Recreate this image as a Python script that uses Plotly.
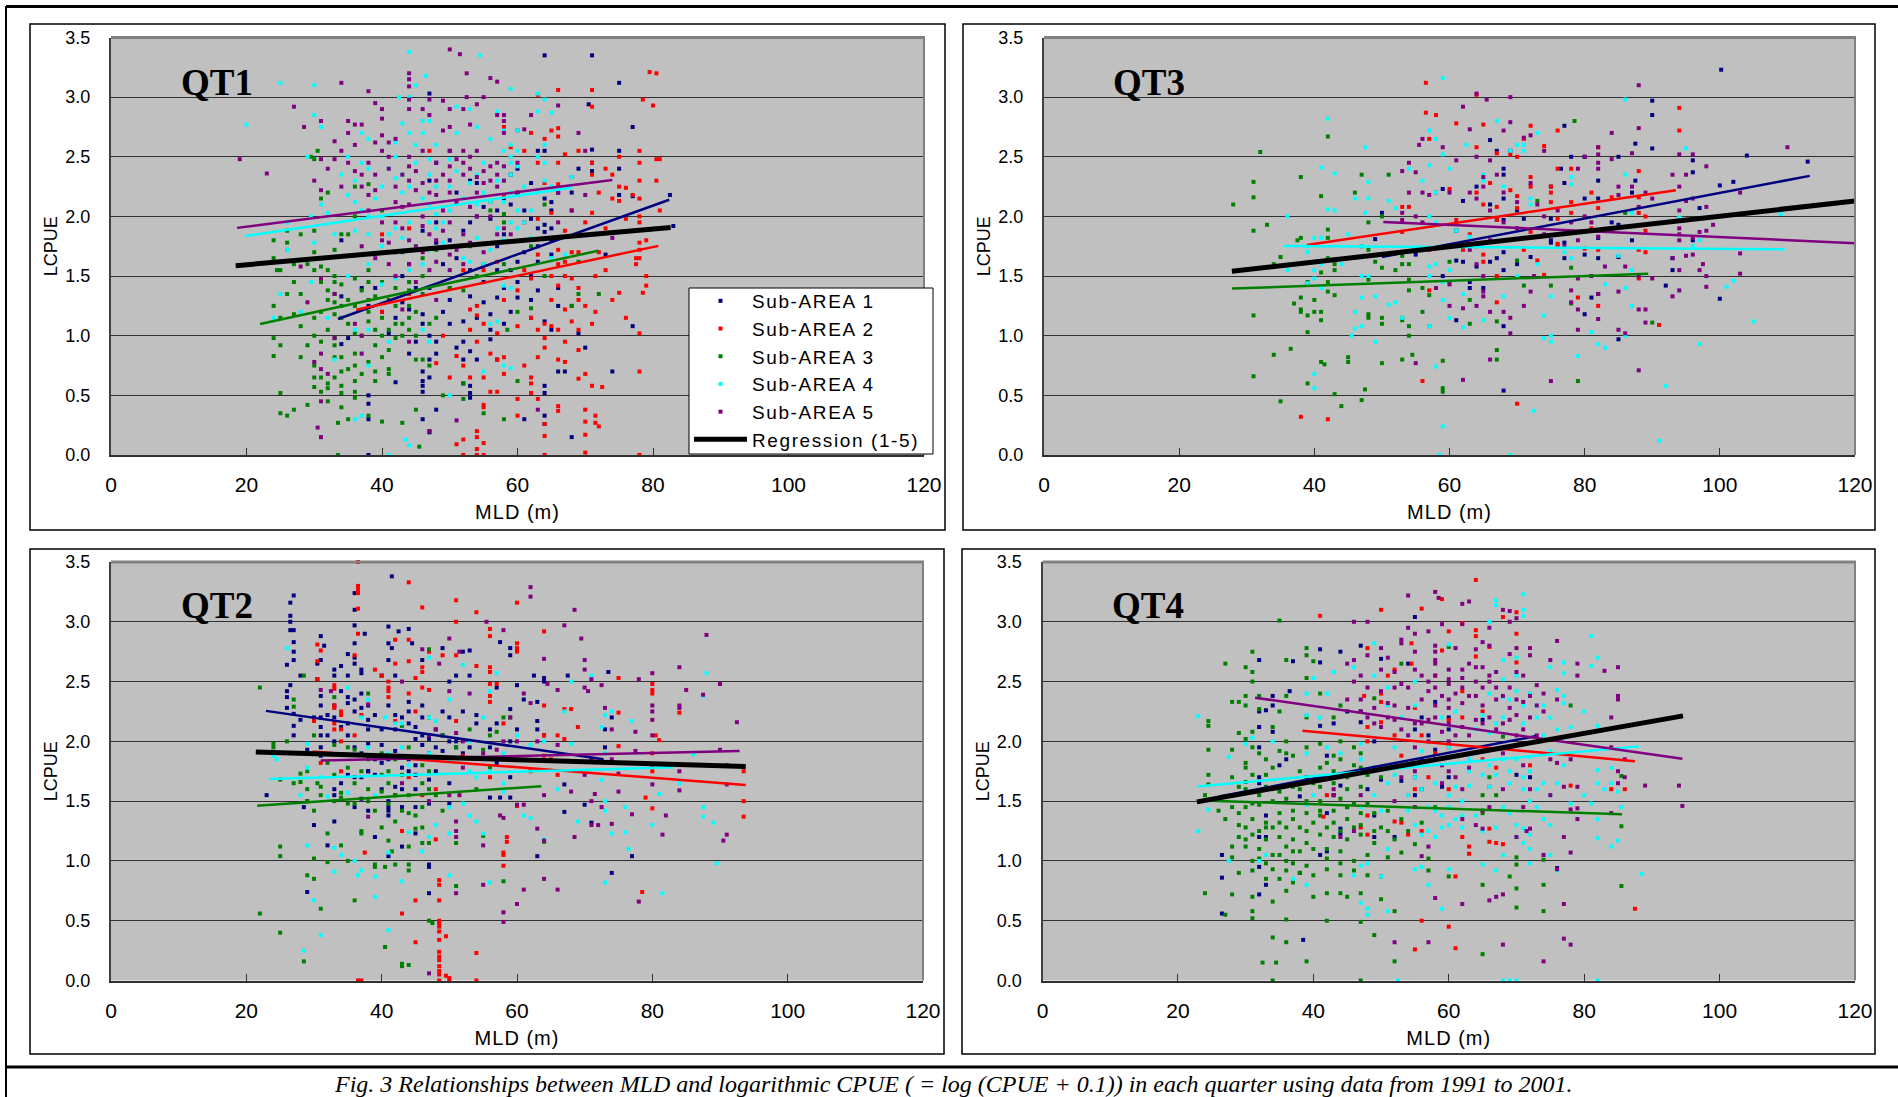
import plotly.graph_objects as go

# ---- data: (MLD, LCPUE) ----
AREAS = ["Sub-AREA 1", "Sub-AREA 2", "Sub-AREA 3", "Sub-AREA 4", "Sub-AREA 5"]
COLORS = ["#000080", "#FF0000", "#008000", "#00FFFF", "#800080"]
X_TICKS = [0, 20, 40, 60, 80, 100, 120]
Y_TICKS = [0.0, 0.5, 1.0, 1.5, 2.0, 2.5, 3.0, 3.5]
CAPTION = "Fig. 3 Relationships between MLD and logarithmic CPUE ( = log (CPUE + 0.1)) in each quarter using data from 1991 to 2001."

QT1_A1 = [(64,3.35),(71,3.35),(75,3.12),(70.5,2.94),(77,2.75),(47,3.03),(71,2.56),(75,2.55),(64,2.55),(71,2.45),(71,2.38),(75,2.4),(82.5,2.18),(75,2.18),(77,2.17),(83,1.92),(69,2.4),(66,2.2),(68,2.2),(64,2.15),(65,2.12),(65,2.05),(64,1.93),(65,1.9),(64,1.87),(65,1.8),(65,1.68),(63,1.62),(63,2.55),(60,2.4),(59,2.35),(62,2.28),(58,2.15),(57,2.05),(54,2.0),(53,1.95),(52,1.88),(58,1.85),(57,1.75),(60,1.62),(57,1.55),(55,1.45),(58,1.4),(60,1.32),(62,1.3),(59,1.2),(56,1.18),(58,1.1),(62,1.15),(64,1.12),(66,1.25),(66,1.4),(65,1.05),(69,1.02),(64,0.58),(64,0.52),(66,0.7),(67,0.7),(70,0.9),(74,0.7),(77,1.08),(73,1.68),(64,0.33),(64,0.26),(68,0.15),(61,0.3),(48,0.38),(47,0.19),(46,0.3),(38,0.3),(38,0.5),(38,0.43),(38,0),(42,0.61),(46,0.62),(46,0.58),(46,0.53),(47,0.65),(46,0.7),(47,0.8),(48,0.85),(48,0.95),(47,1.0),(46,1.1),(44,0.85),(45,0.95),(42,1.15),(40,1.2),(46,1.18),(50,1.1),(52,0.95),(51,0.9),(53,0.87),(52,0.8),(54,0.8),(57,0.8),(52,0.6),(53,0.58),(53,0.52),(53,0.48),(56,0.97),(56,1.05),(50,1.3),(53,1.33),(45,1.4),(43,1.5),(44,1.6),(39,1.4),(37,1.4),(34,1.33),(34,1.8),(35,0.98),(34,0.93),(48,1.78),(50,1.8),(47,2.3),(48,2.45),(51,2.2),(50,2.55),
 (53,2.3),(54,2.28),(55,2.08),(56,1.98),(59,2.1),(61,2.05),(60,2.18),(62,1.98),(63,1.9),(63,1.75),(61,1.7),(59,1.55),(60,1.45),(62,1.5),(63,1.38),(57,1.32),(55,1.28),(54,1.15),(52,1.12),(49,1.2),(47,1.4),(44,1.22),(43,1.28),(41,1.02),(38,1.25),(49,1.6),(51,1.65),(53,1.55),(48,1.95),(46,1.88)]
QT1_A2 = [(79.5,3.21),(80.5,3.2),(78.5,2.98),(80,2.93),(71,3.06),(71,2.92),(66,3.06),(63,3.02),(65,2.72),(66,2.74),(66,2.67),(64,2.65),(58,2.75),(60,2.72),(62,2.7),(59,2.58),(61,2.55),(63,2.45),(66,2.45),(67,2.52),(69,2.55),(71,2.45),(73,2.4),(75,2.5),(78,2.55),(81,2.48),(80.5,2.48),(78,2.45),(74,2.35),(71,2.35),(68,2.33),(66,2.27),(64,2.28),(60,2.2),(58,2.18),(56,2.12),(72,2.2),(75,2.25),(76,2.24),(74,2.15),(75,2.13),(77,2.18),(78,2.15),(80.5,2.3),(81,2.05),(78,2.3),(78,2.0),(76,1.98),(78,1.95),(71,2.03),(68,2.05),(65,2.03),(63,1.98),(61,1.95),(67,1.88),(70,1.95),(73,1.9),(78,1.78),(79,1.8),(78,1.72),(77.5,1.65),(78,1.65),(77.5,1.6),(79,1.5),(79,1.42),(78.5,1.36),(75,1.36),(74,1.3),(71.5,1.2),(71.5,1.5),(73,1.55),(72,1.7),(68,1.7),(69,1.7),(66,1.6),(67,1.5),(68,1.48),(66,1.42),(69,1.4),(69,1.3),(68,1.25),(67,1.22),(65,1.3),(62,1.48),(60,1.38),(62,1.15),(64,1.1),(65,1.08),(66,1.05),(69,1.05),(64,0.98),(67,0.95),(64,0.9),(69,0.88),(67,0.78),(63,0.82),(66,0.8),(70,0.68),(69,0.64),(71,0.58),(72.5,0.57),(78,0.7),(76,1.15),(78,1.02),(62,0.65),(62,0.6),(62,0.52),(60,0.47),(63,0.47),(66,0.41),(66,0.37),(55,0.42),(55,0.4),(60,0.33),(71.5,0.33),(70,0.38),(71.5,0.27),(72,0.24),(70,0.17),(70,0.28),(64,0.16),(64,0.26),(54,0.2),(54,0.15),(55,0.1),(54,0.05),(54,0),(55,0),(52,0),(51,0.09),(52,0.13),(64,0),(70,0.02),(78,0),(56,0.53),(57,0.53),(55,0.65),(53,0.65),(50,0.65),(48,0.77),(52,0.75),(57,0.8),(58,0.82),(54,0.95),(51,0.83),(53,1.05),(49,1.0),(53,1.22),(54,1.25),(54,1.17),(55,1.1),(44,1.35),(50,1.4),(47,2.55),(44,1.9),(40,1.85),(40,1.2),
 (52,1.55),(55,1.55),(57,1.62),(58,1.3),(61,1.55),(63,1.68),(65,1.5),(66,1.72),(67,1.62),(70,1.25),(71,1.1),(68,1.12),(60,1.08),(63,1.05),(57,1.02),(58,0.68),(61,0.75),(56,0.85)]
QT1_A3 = [(30.5,2.55),(29.5,2.5),(30,2.48),(32,2.2),(31,2.15),(26,1.88),(28,1.85),(30,1.88),(35,1.85),(24,1.8),(26,1.78),(24,1.65),(24.5,1.55),(26,1.72),(27,1.6),(30,1.7),(33,1.72),(29,1.6),(31,1.58),(32,1.55),(33,1.5),(33,1.45),(34,1.43),(33,1.35),(32,1.3),(34,1.25),(33,1.18),(31,1.2),(28,1.35),(26,1.35),(25,1.55),(27,1.45),(24,1.25),(25,1.15),(30,1.15),(32,1.05),(33,0.98),(33,0.92),(30,1.0),(24,0.98),(25,0.92),(24,0.83),(28,0.82),(30,0.75),(34,0.82),(36,0.85),(34,0.7),(36,0.75),(39,0.7),(41,0.72),(41,0.68),(39,0.62),(36,0.62),(33,0.65),(30,0.57),(31,0.53),(32,0.56),(34,0.52),(36,0.53),(36,0.48),(32,0.45),(34,0.4),(29,0.42),(25,0.52),(27,0.38),(25,0.35),(26,0.33),(31,0.15),(33.5,0.27),(38,0.33),(40,0.28),(43,0.27),(45,0.38),(33.5,0),(35,0.3),(45.5,0.07),(47,0.2),(49,0.5),(52,0.47),(55,0.35),(58,0.3),(58.5,1.05),(60,0.62),(52,0.6),(38,1.45),(40,1.45),(42,1.4),(44,1.38),(44,1.45),(46,1.5),(38,1.3),(40,1.15),(42,1.1),(44,1.05),(43,1.0),(45,1.0),(39,0.92),(41,0.88),(45,0.8),(47,1.1),(48,1.15),(50,1.4),(52,1.38),(54,1.5),(55,1.6),(53,1.75),(48,1.72),(46,1.65),(43,1.7),(56,2.05),(58,2.02),(58,1.95),(58,1.6),(62,1.75),(64,2.1),(64,1.5),(69,1.62),(69,1.35),(72,1.35),(68,1.25),(62,1.23),(60,1.2),(36,2.25),(38,2.27),(36,2.0),(40,2.05),(34,1.85),(38,1.55),(36,1.48),
 (30,1.55),(31,1.45),(32,1.38),(33,1.28),(34,1.15),(35,1.1),(36,1.02),(37,1.0),(38,1.12),(39,1.05),(40,1.0),(41,1.05),(42,0.98),(43,1.1),(44,1.15),(35,1.3),(36,1.25),(37,1.38),(38,1.2),(39,1.33),(41,1.3),(42,1.25),(44,1.25),(45,1.2),(46,1.35),(31,0.95),(33,0.82),(35,0.72),(37,0.68),(38,0.78),(40,0.82),(30,0.65),(32,0.6),(31,0.65),(34,0.58),(46,0.8),(47,0.75),(29,0.92),(28,1.08),(27,1.18)]
QT1_A4 = [(44,3.38),(25,3.12),(30,3.1),(20,2.77),(30,2.85),(31,2.75),(42.5,3.0),(44,3.0),(46.5,3.18),(45,3.1),(54.5,3.35),(59,3.07),(63,3.03),(64,2.98),(63,2.88),(65,2.87),(53,2.9),(51,2.92),(57,2.88),(46,2.8),(47,2.8),(43,2.78),(37,2.7),(38,2.65),(44,2.7),(45,2.6),(42,2.5),(48,2.6),(51,2.7),(54,2.75),(56,2.65),(58,2.72),(60,2.72),(59,2.6),(58,2.55),(59,2.5),(60,2.42),(59,2.35),(58,2.3),(64,2.6),(63,2.5),(64,2.45),(29,2.5),(35,2.5),(37,2.45),(38,2.4),(34,2.35),(36,2.3),(40,2.25),(43,2.35),(43,2.2),(47,2.35),(45,2.45),(50,2.25),(52,2.15),(55,2.2),(54,2.1),(58,2.12),(60,2.05),(62,2.05),(65,2.25),(68,2.33),(31,2.1),(29.5,2.0),(32,2.03),(26,1.95),(26,1.72),(30,1.78),(33,1.85),(36,1.88),(38,1.85),(40,1.75),(42,1.9),(44,1.95),(47,1.95),(48,1.9),(52,1.85),(54,1.82),(57,1.9),(60,1.9),(62,1.82),(61,1.95),(46,1.6),(44,1.55),(42,1.48),(40,1.43),(38,1.6),(35,1.5),(29.5,1.45),(25,1.35),(28,1.2),(24,1.15),(32,1.15),(38,1.05),(36,1.05),(41,0.95),(46,1.05),(47,0.95),(37,0.85),(38,0.75),(33,0.8),(59,1.4),(58,1.42),(57,1.12),(56,1.1),(50,1.55),(52,1.65),(55,1.6),(65,1.65),(67,1.68),(58,0.75),(59,0.73),(55,0.7),(50,0.5),(37,0.33),(36,0.3),(43.5,0.13),(44,0.08),(41,0),(54,2.35),(48,2.25),
 (41,2.4),(42,2.32),(44,2.25),(46,2.15),(47,2.1),(48,2.02),(49,1.95),(50,2.05),(51,2.38),(53,2.28),(55,2.45),(56,2.12),(57,2.3),(58,2.42),(59,2.45),(60,2.55),(59,2.2),(61,2.25),(63,2.2),(64,2.3),(35,2.18),(36,2.12),(37,2.05),(38,2.0),(39,2.15),(40,2.0),(41,1.85),(43,1.82),(45,1.75),(47,1.72),(49,1.78),(51,1.75),(53,1.62),(56,1.72),(58,1.8),(59,1.95),(42,2.62),(47,2.48),(50,2.48),(46,2.7)]
QT1_A5 = [(50,3.4),(51.5,3.36),(52.5,3.2),(56,3.16),(57,3.13),(44,3.2),(44,3.15),(44,3.09),(34,3.12),(38,3.05),(55,3.0),(52.5,3.0),(47,2.98),(44,2.98),(49,2.97),(39,2.95),(40,2.9),(27,2.92),(28.5,2.75),(31,2.8),(35,2.8),(36,2.77),(37,2.77),(40,2.82),(44,2.9),(46,2.9),(47,2.85),(50,2.9),(52,2.9),(54,2.94),(57,2.85),(58,2.85),(58,2.8),(62,2.85),(66,2.93),(61,2.73),(58,2.7),(53,2.77),(50,2.75),(49,2.72),(35,2.7),(36,2.6),(33,2.63),(34,2.55),(39,2.62),(40,2.55),(42,2.65),(44,2.5),(46,2.55),(48,2.45),(50,2.55),(52,2.55),(53,2.5),(56,2.42),(57,2.45),(55,2.38),(38,2.45),(41,2.4),(31,2.48),(32,2.4),(30,2.3),(31,2.22),(19,2.48),(23,2.36),(34,2.25),(37,2.25),(39,2.35),(42,2.25),(44,2.3),(45,2.22),(48,2.3),(50,2.3),(52,2.35),(54,2.2),(58,2.3),(60,2.2),(66,2.2),(69,2.7),(70,2.55),(38,2.05),(40,1.95),(42,1.95),(44,2.1),(46,2.0),(49,2.05),(50,1.95),(52,1.85),(54,2.0),(56,2.0),(58,1.9),(48,1.8),(45,1.75),(40,1.8),(37,1.75),(52,1.6),(50,1.55),(47,1.55),(45,1.45),(42,1.5),(28,1.58),(29,1.28),(33,1.35),(31,1.48),(43,1.22),(48,1.3),(36,1.1),(37,1.0),(33,0.98),(31,0.85),(30,0.78),(31,0.72),(32,0.68),(37,0.85),(44,0.95),(31,0.45),(30.5,0.23),(31,0.15),(47,0.2),(51,0.29),(63,0.38),(74,1.82),(60,2.45),(66,1.95),(68,2.05),(70,2.18),
 (40,2.68),(41,2.5),(41,2.62),(43,2.35),(44,2.42),(45,2.38),(46,2.28),(47,2.2),(48,2.18),(49,2.35),(50,2.42),(51,2.48),(52,2.45),(53,2.4),(54,2.55),(54,2.33),(55,2.28),(56,2.3),(57,2.35),(57,2.25),(58,2.42),(50,2.2),(51,2.12),(53,2.08),(43,2.08),(42,2.12),(39,2.22),(38,2.18),(36,2.38),(37,2.35),(35,2.45),(33,2.48),(46,1.92),(47,1.85),(44,1.8),(41,1.78),(43,1.9),(49,1.88),(51,1.72),(53,1.78),(55,1.7),(57,1.85),(59,1.85),(48,1.62),(50,1.68),(46,1.7),(42,1.7),(39,1.65),(44,1.6),(41,1.6)]

QT3_A1 = [(100.2,3.23),(90,2.97),(90,2.85),(87.5,2.61),(90,2.57),(85,2.5),(104,2.51),(113,2.46),(96,2.47),(96,2.37),(102,2.29),(100,2.26),(87.5,2.3),(87,2.2),(82,2.3),(82,2.15),(80,2.15),(78,2.5),(80,2.5),(75,2.25),(77,2.28),(76.5,2.4),(77,2.76),(68,2.4),(68,2.35),(67,2.55),(69,2.55),(66,2.64),(64,2.25),(62,2.13),(68,2.15),(66,2.1),(59,2.23),(68,1.97),(67,1.97),(70,2.05),(71,1.98),(61,1.88),(75,1.98),(75,1.78),(77,1.78),(75,1.8),(82,1.82),(85,1.93),(84,1.95),(87,1.8),(82,1.65),(85,1.66),(80,1.68),(77,1.65),(72,1.66),(68,1.7),(67,1.65),(66,1.62),(70,1.6),(64,1.58),(61,1.63),(62,1.62),(59,1.5),(63,1.45),(65,1.4),(63,1.4),(68,1.55),(49,1.81),(50,2.03),(55,1.68),(61,1.13),(68,1.08),(68,0.54),(82,1.35),(81,1.32),(80,1.18),(85,0.97),(93,1.65),(93,1.55),(92,1.42),(100,1.31),(96,1.8),(97,2.07)]
QT3_A2 = [(56.5,3.12),(56.5,2.87),(58,2.85),(57,2.65),(61,2.78),(64,3.02),(65,2.77),(72,2.76),(76,2.72),(71,2.65),(94,2.91),(94,2.72),(74,2.59),(64,2.58),(67,2.53),(69,2.52),(70,2.5),(82,2.58),(88,2.38),(78,2.4),(76,2.4),(72,2.33),(75,2.25),(75,2.2),(72,2.25),(66,2.28),(64,2.2),(69,2.22),(70,2.17),(65,2.1),(67,2.08),(70,2.07),(75,2.12),(78,2.12),(81,2.2),(84,2.16),(82,2.07),(78,2.03),(88,2.16),(89,2.0),(88,2.03),(60,2.23),(58,2.2),(54,2.08),(61,1.97),(63,1.85),(67,1.97),(72,1.87),(76,1.98),(62,1.72),(65,1.68),(71,1.72),(65,1.62),(57,1.72),(73,1.63),(76,1.77),(76,1.76),(80,1.73),(82,1.72),(88,1.72),(89,1.7),(89,1.88),(67,1.5),(74,1.51),(88,1.48),(57,1.38),(67,1.28),(79,1.32),(82,1.25),(81,1.9),(91,1.09),(38,0.32),(42,0.3),(56,0.62),(70,0.43),(53,1.87),(53,2.08),(64,1.75)]
QT3_A3 = [(28,2.1),(31,2.29),(31,2.16),(32,2.54),(31,1.88),(33,1.93),(38,2.33),(41,2.17),(42,2.67),(46,2.2),(47,2.35),(51,2.35),(50,2.0),(38,1.82),(37.5,1.8),(42,1.89),(42,1.82),(35,1.66),(34,1.6),(31,1.17),(31,0.66),(34,0.84),(36.5,0.89),(35,0.45),(38,1.32),(37,1.27),(38,1.22),(38,1.2),(39,1.17),(39,1.03),(41,1.13),(40,1.2),(40,1.3),(41,1.2),(39,1.45),(42,1.45),(42,1.37),(43,1.34),(42,1.65),(43,1.6),(43,1.55),(41,1.53),(48,1.95),(47,1.75),(48,1.72),(49,1.62),(50,1.57),(48,1.47),(53,1.67),(53,1.6),(54,1.6),(52,1.55),(54,1.47),(54,1.38),(56,1.4),(57,1.34),(48,1.18),(48,1.15),(50,1.15),(50,1.1),(53,1.15),(53,1.13),(54,1.08),(56,1.2),(57,1.08),(54,1.0),(39,0.6),(41,0.78),(41.5,0.76),(45,0.82),(45,0.78),(50,0.77),(53,0.8),(54.5,0.84),(59,0.79),(47,0.46),(47.5,0.55),(44,0.41),(43,0.51),(59,0.56),(59,0.53),(67,0.88),(67,0.8),(79,0.62),(63,1.3),(63,1.1),(67,1.12),(73,2.13),(78.5,2.8),(78,1.57),(71,1.42),(70,1.63),(75,1.42),(78,1.27),(86,2.03),(90,1.11),(60,1.45),(60,1.62),(62,1.75)]
QT3_A4 = [(59,3.16),(42,2.82),(47.5,2.58),(57,2.72),(58,2.65),(59,2.52),(62.5,2.6),(67,2.8),(73,2.7),(71,2.6),(69,2.55),(70,2.6),(71,2.55),(86,2.98),(95,2.57),(86,2.35),(78,2.33),(78,2.27),(60,2.4),(56,2.3),(54,2.4),(57,2.43),(58,2.2),(65,2.35),(68,2.25),(72,2.15),(72,2.1),(65,2.3),(41,2.41),(43,2.36),(48,2.15),(46,2.15),(48,2.29),(47.5,2.03),(42,2.06),(43,2.05),(36,2.0),(51,2.13),(52,2.07),(57,2.0),(58,1.95),(61,1.88),(63,1.83),(45,1.85),(47,1.75),(39,1.75),(40,1.82),(41,1.82),(39,1.7),(44,1.6),(41,1.6),(40,1.55),(36,1.55),(40,1.48),(39,1.44),(41,1.4),(47,1.32),(49,1.33),(52,1.28),(51,1.26),(48,1.5),(47,1.5),(57,1.5),(57,1.58),(58,1.6),(60,1.55),(59,1.45),(59,1.3),(62,1.35),(46,1.2),(47,1.08),(46,1.06),(45.5,1.0),(49,0.95),(53,1.15),(57,1.08),(60,1.15),(62,1.07),(65,1.13),(68,1.33),(70,1.5),(75,1.33),(74,1.17),(73,1.6),(77,1.7),(78,1.65),(85,1.67),(87,1.55),(86,1.4),(83,1.43),(75,1.0),(75,0.95),(74,0.98),(79,0.83),(82,0.93),(83,0.9),(86,1.0),(81,1.03),(97,0.93),(92,0.58),(91,0.12),(105,1.12),(101,1.41),(102,1.46),(94,1.38),(87,1.25),(109,2.02),(96,1.75),(97,1.8),(94,1.99),(87,2.03),(40,0.68),(40,0.56),(58,0.74),(72.5,0.37),(59,0.24),(58.5,0),(69,0)]
QT3_A5 = [(88,3.1),(64,3.03),(65.5,2.98),(69,3.0),(62,2.92),(69,2.79),(63,2.73),(68,2.72),(72,2.68),(88,2.74),(84,2.7),(56,2.65),(55.5,2.6),(59,2.58),(61,2.47),(64,2.5),(66,2.47),(71,2.66),(74,2.55),(110,2.58),(82,2.58),(82,2.52),(87,2.53),(84,2.48),(80,2.5),(82,2.45),(82,2.4),(79,2.4),(85,2.25),(89,2.2),(90,2.15),(94,2.52),(95,2.35),(93,2.35),(94,2.25),(96,2.52),(98,2.42),(94,2.05),(96,2.15),(95,2.13),(98,2.08),(103,2.2),(99,1.93),(94,1.9),(94,1.85),(98,1.88),(97,1.87),(94,1.8),(96,1.82),(103,1.69),(103,1.52),(97.5,1.6),(97,1.55),(98,1.5),(98,1.41),(96,1.68),(95,1.67),(94,1.55),(93,1.65),(94,1.38),(93,1.33),(90,1.48),(88,1.5),(86,1.58),(85,1.37),(82,1.35),(78,1.38),(79,1.48),(81,1.5),(83,1.58),(79,1.22),(78,1.28),(82,1.14),(88,1.22),(89,1.22),(89,1.11),(85,1.05),(86,1.02),(79,1.05),(88,0.71),(75,0.62),(69,1.02),(66,0.8),(62,0.63),(55,0.77),(69,1.15),(68,1.2),(66,1.2),(64,1.25),(60,1.25),(62,1.23),(71,1.25),(72,1.37),(72.5,1.5),(65,1.37),(65,1.33),(65,1.5),(60,1.43),(58,1.4),(53,2.03),(54,2.45),(55,2.37),(53,2.38),(54,2.2),(56,2.2),(60,2.2),(57,2.18),(63,2.2),(65,2.25),(64,2.15),(66,2.05),(68,2.2),(70,2.12),(67,2.35),(65,2.33),(73,2.1),(72,2.28),(74,2.0),(76,2.05),(78,1.95),(80,2.0),(81,1.95),(82,1.83),(79,1.8),(77,1.75),(85,2.18),(87,2.25),(88,2.08),(56,1.95),(55,2.0),(53,1.97),(62,1.75),(66,1.8),(68,1.95),(70,1.9),(74,1.85),(64,1.6),(63,1.72)]

QT2_A1 = [(41.5,3.38),(27,3.22),(26.5,3.16),(36,3.24),(36,3.1),(26.5,3.05),(26.5,3.0),(26.5,2.93),(27,2.93),(36,2.97),(41,2.96),(44,2.94),(42.5,2.92),(37.5,2.9),(31,2.88),(27,2.83),(36,2.82),(41,2.82),(41.5,2.78),(44.5,2.82),(27,2.75),(31.5,2.8),(27,2.68),(26,2.64),(31,2.68),(30.5,2.65),(35,2.73),(36,2.7),(34,2.63),(36,2.65),(37,2.6),(41,2.68),(46,2.68),(49,2.78),(52,2.75),(53,2.76),(57.5,2.83),(59,2.78),(59,2.72),(62.5,2.55),(64,2.53),(64,2.5),(67.5,2.55),(73.5,2.58),(50,2.5),(51,2.55),(53,2.55),(57,2.45),(60,2.47),(33,2.55),(33,2.6),(35,2.55),(37,2.57),(40,2.55),(42,2.55),(30.5,2.52),(26.5,2.47),(26,2.42),(26,2.37),(26,2.28),(27,2.23),(28,2.18),(27,2.13),(30,2.2),(31,2.3),(31,2.2),(31,2.12),(33,2.2),(35,2.37),(37,2.4),(36,2.35),(38,2.3),(41,2.3),(44,2.33),(46,2.3),(46,2.2),(49,2.25),(50,2.2),(52,2.25),(54,2.22),(54,2.15),(57,2.15),(59,2.27),(61,2.35),(63,2.33),(63,2.17),(63,2.1),(64,2.05),(60,2.1),(56,2.1),(48,2.1),(44,2.15),(42,2.1),(40,2.1),(38,2.1),(35,2.05),(33,2.0),(31,1.95),(31,1.88),(29,1.93),(38,1.98),(40,1.97),(42,1.92),(44,1.85),(46,1.97),(49,2.05),(51,2.0),(53,1.95),(56,1.95),(59,2.0),(40,1.82),(38,1.75),(36,1.7),(34,1.65),(33,1.6),(33,1.55),(23,1.55),(29,1.5),(28.5,1.45),(38,1.75),(45,1.8),(45,1.72),(50,1.65),(48,1.75),(40,1.6),(41,1.5),(41,1.45),(41,1.38),(38,1.42),(36,1.45),(43,1.45),(45,1.45),(47,1.48),(50,1.48),(45,1.23),(43,1.12),(39,1.2),(33,1.33),(30,1.3),(32,1.13),(41,1.04),(47,0.97),(47,0.95),(47,0.73),(29,0.74),(63,1.04),(77,1.04),(74,0.9),(71,1.32),(67,1.64),(67,1.41),(56,1.53),(57.5,1.53),(59,1.53),(70,1.47),(73,1.95),(73,2.1),(74,2.2),(57,1.82),(59,1.7),
 (33,2.3),(34,2.42),(35,2.32),(36,2.25),(37,2.28),(38,2.18),(39,2.22),(42,2.22),(43,2.2),(44,2.25),(45,2.12),(45,2.02),(46,2.05),(47,2.02),(47,1.9),(48,1.95),(49,1.92),(50,2.0),(51,1.95),(52,1.9),(34,2.12),(35,2.15),(32,2.05),(36,1.95),(37,1.9),(38,1.88),(39,1.85),(41,1.85),(43,1.78),(44,1.75),(35,1.72),(37,1.7),(39,1.72),(42,1.62),(43,1.6),(45,1.6),(47,1.68),(37,1.52),(41,1.42),(42,1.55),(31,2.38),(32,2.22),(31,2.05),(27,2.05),(28,2.55)]
QT2_A2 = [(36.5,3.5),(44,3.33),(36.5,3.3),(36.5,3.27),(36.5,3.24),(36.5,3.11),(46,3.12),(51,3.18),(60,3.16),(54,3.08),(51,3.0),(56,2.94),(56,2.88),(64,2.92),(36.5,2.9),(30.5,2.81),(31,2.76),(42,2.85),(44,2.85),(60,2.82),(60,2.78),(60,2.75),(47,2.75),(49,2.72),(51,2.72),(36,2.72),(30.5,2.67),(44,2.67),(42,2.65),(46,2.62),(54,2.63),(56,2.62),(56,2.58),(39,2.6),(40,2.55),(46,2.58),(45,2.53),(30.5,2.52),(33,2.47),(33,2.44),(41,2.5),(41,2.45),(56,2.48),(57,2.48),(46,2.45),(47,2.43),(44,2.4),(41,2.42),(41,2.37),(56,2.38),(56,2.33),(75,2.53),(80,2.48),(80,2.43),(80,2.4),(84,2.24),(75,2.24),(67,2.27),(68,2.27),(64,2.3),(33,2.3),(33,2.28),(34,2.25),(34,2.22),(37,2.22),(30,2.17),(33,2.15),(33,2.1),(34,2.1),(45,2.25),(51,2.17),(42,2.17),(58,2.15),(36,2.05),(34,2.0),(31,1.9),(31,1.82),(34,1.75),(69,2.12),(64,2.05),(66,2.05),(67,2.02),(75,1.96),(80.5,2.05),(81,2.01),(80,1.9),(80,1.8),(80,1.75),(64,1.88),(65,1.85),(52,1.88),(56,1.7),(62,1.75),(66,1.72),(48,1.6),(44,1.7),(46,1.55),(60,1.46),(43,1.25),(48,1.18),(58.5,1.2),(58.5,1.16),(58,1.05),(58,1.07),(37.5,1.07),(58,0.96),(78.5,0.74),(79,1.53),(80,1.44),(93.5,1.75),(93.5,1.5),(93.5,1.37),(48.5,0.84),(48.5,0.8),(45,0.67),(48.5,0.67),(43,0.56),(48.5,0.5),(48.5,0.48),(48.5,0.45),(48.5,0.41),(48.5,0.34),(49.5,0.37),(45,0.32),(48.5,0.24),(48.5,0.2),(48.5,0.17),(54,0.23),(48.5,0.12),(48.5,0.08),(48.5,0.05),(49.5,0.04),(50,0.02),(48.5,0),(50,0),(54,0),(36.5,0),(37,0)]
QT2_A3 = [(22,2.45),(28.5,2.55),(27,2.35),(27,2.29),(47,2.77),(38,2.4),(33,2.37),(30,2.05),(24,1.98),(24,1.95),(26,2.0),(33,1.97),(35,1.95),(28,1.73),(29,1.75),(27,1.65),(28,1.66),(29,1.6),(30.5,1.65),(31,1.62),(25,1.68),(32,1.82),(29,1.5),(33,1.5),(34,1.57),(34,1.53),(35,1.48),(36,1.48),(38,1.6),(41,1.75),(40,1.72),(41,1.65),(40,1.58),(36,1.93),(38,1.85),(40,1.9),(44,1.95),(43,2.13),(46,1.8),(47,1.75),(46,1.65),(44,1.55),(43,1.42),(46,1.45),(47,1.6),(44,1.4),(45,1.38),(42,1.33),(40,1.28),(37,1.23),(37,1.25),(32,1.23),(25,1.12),(25,1.04),(30,1.02),(34,1.13),(35,1.0),(32,0.99),(39,0.95),(39,0.97),(40.5,0.95),(42,0.97),(44,0.97),(44,0.92),(41.5,1.08),(41,1.17),(44,1.12),(46,1.15),(47,1.15),(45,1.27),(51,1.15),(55,1.21),(64,1.16),(29,0.88),(30,0.85),(31,0.6),(36,0.67),(22,0.56),(25,0.4),(28.5,0.16),(40.5,0.28),(43,0.14),(43,0.12),(44,0.13),(47,0.5),(47.5,0.48),(51,0.79),(58,0.83),(49,2.05),(53,2.1),(56,2.05),(57,2.08),(58,2.2),(55,1.93),(56,1.78),(51,1.95),(54,1.6),(59,2.2),(47,2.2),
 (33,1.72),(35,1.78),(36,1.65),(37,1.75),(38,1.5),(39,1.42),(31,1.55),(30,1.42),(42,1.55),(43,1.72),(41,1.48),(42,1.85),(48,1.55),(49,1.42),(46,1.28)]
QT2_A4 = [(26,2.78),(47,2.7),(52,2.64),(50,2.35),(57,2.57),(56,2.42),(35,2.45),(38,2.35),(37,2.2),(40.5,2.2),(42,2.15),(43,2.15),(47,2.2),(48,2.17),(68,2.5),(71,2.55),(88,2.57),(87.5,2.38),(74,2.25),(73,2.22),(77,2.17),(72.5,2.12),(67,2.25),(53,2.0),(58,1.9),(60,2.05),(55,2.2),(62,1.97),(64,2.0),(68,1.98),(73,1.9),(24,1.88),(24.5,1.85),(29,1.98),(29,1.78),(31,1.7),(38,1.95),(41,1.9),(43,1.95),(44,1.8),(47,1.9),(50,1.85),(53,1.75),(54,1.7),(56,1.75),(58,1.65),(58,1.58),(66,1.6),(72.5,1.68),(73,1.5),(28,1.55),(32,1.54),(35,1.57),(39,1.55),(47,1.5),(50,1.45),(52,1.48),(53,1.38),(54,1.33),(61,1.38),(62,1.36),(76,1.45),(73,1.42),(69,1.33),(76,1.24),(74,1.23),(80,1.3),(81,1.56),(84,1.65),(86,1.89),(87.5,1.45),(87.5,1.37),(89,1.32),(76.5,1.1),(89.5,0.98),(48,1.3),(47,1.2),(50,1.23),(46,1.08),(41,1.07),(36,1.0),(33,1.11),(34,1.05),(33,0.91),(29,1.13),(37,0.92),(36.5,0.88),(39,0.87),(43,0.83),(50,0.88),(56,0.82),(73,0.82),(81.5,0.73),(39,0.7),(30,0.67),(31,0.38),(41,0.42),(28.5,0.25),(44,1.24),(55,1.23),(64,1.18)]
QT2_A5 = [(62,3.29),(62,3.21),(68.5,3.1),(55.5,3.0),(67,2.97),(58,2.93),(50,2.86),(69.5,2.86),(88,2.89),(46,2.77),(51.5,2.75),(64,2.69),(70,2.68),(48.5,2.65),(70,2.6),(71,2.52),(84,2.62),(80,2.57),(78,2.52),(90,2.48),(72.5,2.47),(73,2.28),(70,2.45),(70.5,2.42),(66,2.43),(64.5,2.48),(61,2.4),(53,2.4),(50,2.42),(59,2.2),(62,2.32),(80,2.3),(80,2.25),(80,2.18),(84,2.3),(84,2.28),(85,2.43),(87.5,2.39),(77.5,2.08),(80,2.05),(92.5,2.16),(74,2.1),(58,2.0),(60,2.0),(63,2.0),(66,1.97),(71,1.85),(74,1.85),(77.5,1.92),(90,1.93),(91,1.8),(84,1.75),(80,1.64),(84,1.59),(91,1.64),(75,1.73),(70,1.72),(68,1.58),(71.5,1.56),(71,1.5),(72.5,1.45),(75,1.58),(64,1.55),(60,1.47),(61,1.47),(57.5,1.38),(58,1.36),(77,1.39),(82,1.38),(72,1.3),(74,1.31),(71,1.3),(81.5,1.22),(91,1.22),(90.5,1.17),(63,1.27),(64,1.17),(68.5,1.2),(55,1.13),(51,1.33),(51,1.25),(51,1.2),(50,1.55),(51.5,1.55),(52,1.78),(47,2.05),(48,2.1),(51,2.07),(52,2.0),(55,1.9),(57,1.93),(47,1.5),(38,1.37),(43,1.65),(38,2.31),(31,2.43),(32.5,2.42),(43,2.5),(64,0.85),(66,0.76),(61,0.76),(55,0.8),(51,0.73),(60,0.64),(58,0.57),(58,0.49),(78,0.66),(47,0.06)]

QT4_A1 = [(55,3.04),(44,2.75),(47,2.8),(41,2.77),(41,2.66),(32,2.68),(37,2.67),(50,2.69),(54,2.65),(36.5,2.42),(34,2.38),(34,2.3),(32,2.25),(33,2.26),(45,2.25),(47,2.25),(43,2.15),(41,2.13),(47,2.16),(32,2.12),(34,2.08),(32,1.95),(36,1.85),(35,1.8),(32,1.7),(32,1.65),(38,1.54),(44,1.63),(42,1.88),(49,2.0),(56,2.2),(55,2.1),(58,2.33),(60,2.2),(57,2.05),(60,2.1),(58,1.93),(55,1.7),(56,1.6),(55,1.55),(59,1.62),(60,1.7),(53,1.67),(50,1.68),(48,1.6),(43,1.55),(45,1.45),(42,1.4),(33,1.38),(32,1.2),(33,1.2),(44,1.27),(44,1.23),(49,1.38),(49,1.2),(52,1.2),(42,1.08),(41,1.05),(26.5,1.05),(32,0.95),(26.5,0.86),(38,0.9),(33,0.8),(32,0.72),(26.5,0.56),(38.5,0.34),(56,1.85),(65,2.18),(70,1.72),(76,0.94),(72,1.7)]
QT4_A2 = [(64,3.35),(41,3.05),(50,3.1),(56,3.11),(59,3.19),(68,3.04),(70,3.08),(62,2.99),(60,2.92),(64,2.93),(64,2.88),(70,2.9),(54.5,2.82),(48,2.78),(66,2.79),(59,2.76),(64,2.71),(70,2.66),(54.5,2.65),(52,2.6),(51,2.55),(58,2.55),(50,2.4),(47.5,2.38),(50,2.33),(55,2.28),(62,2.42),(65,2.25),(62,2.2),(60,2.18),(56,2.05),(50,2.16),(48,2.12),(52,2.05),(58,1.9),(60,1.95),(53,1.88),(65,1.85),(72,1.8),(67,1.78),(54,1.55),(55,1.6),(60,1.6),(78,1.63),(84,1.6),(86,1.6),(66,1.62),(42,1.55),(41.5,1.37),(47,1.28),(48,1.22),(48,1.38),(52,1.33),(54,1.22),(53,1.32),(56,1.25),(62,1.2),(63,1.12),(66,1.16),(67,1.15),(68,1.14),(63,1.06),(61,0.87),(87.5,0.6),(56,0.5),(60,0.45),(55,0.26),(61,0.27),(66,1.27),(48,2.0),(57,1.7)]
QT4_A3 = [(35,3.01),(31,2.75),(27,2.65),(30,2.62),(31,2.58),(39,2.78),(39,2.72),(36,2.68),(40,2.67),(53,2.65),(60,2.79),(31,2.5),(39,2.53),(30,2.38),(32,2.38),(28,2.33),(29,2.33),(30,2.3),(35,2.25),(32,2.27),(24.5,2.17),(24.5,2.13),(36,2.38),(41,2.4),(49,2.36),(44,2.3),(43,2.2),(39,2.2),(34,2.12),(31,2.08),(29,2.07),(30,2.02),(36,2.0),(31,1.95),(28,1.93),(24.5,1.93),(32,1.9),(35,1.92),(36,1.9),(39,1.95),(41,1.98),(44,2.0),(46,1.95),(43,1.88),(47,1.9),(30,1.82),(30,1.78),(33,1.85),(24.5,1.72),(28,1.7),(33,1.72),(30,1.66),(24.5,1.64),(38,1.75),(41,1.78),(43,1.75),(46,1.8),(49,1.78),(45,1.7),(43,1.65),(47,1.62),(48,1.72),(50,1.7),(38,1.6),(40,1.65),(30,1.6),(32,1.55),(36,1.52),(24,1.55),(39,1.5),(41,1.5),(44,1.52),(46,1.48),(30,1.45),(32,1.47),(34,1.5),(26,1.42),(27,1.35),(29,1.4),(31,1.35),(33,1.32),(35,1.4),(37,1.35),(39,1.4),(41,1.38),(43,1.32),(45,1.35),(47,1.3),(49,1.4),(51,1.42),(53,1.35),(51,1.25),(49,1.25),(47,1.22),(45,1.18),(43,1.2),(41,1.22),(39,1.25),(37,1.18),(35,1.2),(33,1.28),(31,1.22),(29,1.2),(30,1.12),(32,1.1),(34,1.05),(36,1.12),(38,1.08),(40,1.1),(42,1.1),(44,1.08),(46,1.0),(48,1.05),(51,1.03),(53,1.07),(28,1.12),(28,1.03),(31,1.0),(33,0.98),(36,1.0),(37,0.98),(39,0.96),(42,0.93),(44,0.88),(46,0.92),(48,0.88),(50,0.87),(29,0.9),(31,0.92),(33,0.85),(35,0.85),(37,0.82),(36,0.75),(40,0.7),(42,0.73),(44,0.73),(45,0.7),(47,0.73),(28,0.72),(24,0.73),(31,0.7),(31,0.58),(31,0.52),(27,0.55),(34,0.66),(36,0.51),(42,0.5),(47,0.49),(50,0.68),(49,0.38),(34,0.36),(36,0.32),(39,0.16),(32.5,0.15),(34.5,0.15),(52,0.16),(34,0),(47,0),(52,0.58),(65,0.22),(74,0.58),(74,1.01),(74,0.8),(70,0.77),(70,0.61),(69,0.87),(65,0.8),(70,1.03),(70,0.97),(60,0.87),(57,0.92),(85.5,0.79),(85.5,1.29),(85.5,1.71),(66,1.7),(68,2.04),(78,2.3),(55,1.14),(57,1.02),(65,1.4),(65,1.55),(67,1.55),(56,1.32),
 (28,1.45),(29,1.3),(30,1.28),(31,1.48),(32,1.25),(33,1.18),(34,1.28),(35,1.32),(36,1.28),(37,1.42),(38,1.28),(39,1.15),(40,1.32),(41,1.42),(42,1.28),(43,1.42),(44,1.25),(45,1.45),(46,1.28),(47,1.4),(48,1.48),(49,1.15),(30,1.18),(32,1.02),(34,0.93),(36,0.92),(38,0.9),(40,0.88),(42,1.02),(44,0.98),(35,1.58),(37,1.62),(39,1.7),(41,1.62),(43,1.55),(45,1.6),(47,1.78),(42,1.82),(44,1.85),(37,1.88),(34,1.78),(31,1.72),(29,1.62),(33,1.62),(35,1.05),(37,1.08),(50,1.28),(52,1.18),(54,1.25),(58,1.45)]
QT4_A4 = [(71,3.23),(67,3.18),(67,3.14),(71,3.1),(71,3.05),(66,3.0),(81,2.88),(60,2.81),(49,2.82),(50,2.78),(82,2.7),(81,2.63),(77,2.66),(70,2.7),(68,2.68),(75,2.62),(77,2.57),(67,2.58),(70,2.55),(68,2.52),(49,2.55),(43,2.58),(40,2.53),(39,2.4),(42,2.4),(46,2.62),(51,2.45),(55,2.5),(73,2.3),(76,2.43),(77,2.38),(74,2.3),(77,2.32),(68,2.37),(66,2.4),(71,2.3),(73,2.2),(71,2.15),(80,2.25),(78,2.12),(75,2.2),(68,2.2),(64,2.1),(66,2.07),(23,2.21),(39,2.22),(41,2.2),(31,2.03),(30,1.98),(34,2.0),(27.5,1.87),(39,1.9),(42,1.95),(44,1.9),(47,1.85),(47,1.98),(52,1.95),(56,1.92),(60,1.95),(63,1.85),(68,1.85),(72,1.87),(75,1.92),(77,1.8),(82,2.13),(82,1.76),(82,1.65),(85,1.58),(83,1.6),(80,1.55),(81,1.48),(85.5,1.45),(82,1.35),(82,1.19),(84,1.12),(88.5,0.89),(78,1.48),(74,1.65),(71,1.7),(69,1.65),(66,1.62),(73,1.6),(72,1.5),(63,1.63),(60,1.55),(58,1.65),(55,1.7),(51,1.65),(49,1.55),(47,1.45),(24.5,1.43),(23,1.25),(43,1.7),(40,1.55),(39,1.47),(50,1.42),(54,1.42),(58,1.42),(61,1.35),(64,1.38),(70,1.3),(71,1.27),(72,1.22),(70,1.2),(71,1.15),(72,1.1),(75,1.3),(75,1.05),(74,1.05),(68,1.05),(72,0.98),(76,0.92),(62,1.28),(59,1.28),(58,1.2),(56,1.22),(51,1.1),(48,0.98),(47,0.96),(27.5,1.0),(32,1.0),(33,1.05),(37,0.85),(39,0.8),(46,0.88),(50,0.87),(55,0.93),(56,0.95),(60,0.93),(65,0.97),(67,0.92),(57,0.8),(47,0.65),(48,0.6),(48,0.55),(51,0.58),(59,0.6),(52.5,0),(68,0),(69,0),(70,0),(82,0),(85,1.17),(84,1.78),(84,1.65),
 (52,1.72),(54,1.55),(56,1.6),(57,1.45),(59,1.38),(60,1.45),(61,1.62),(62,1.5),(63,1.75),(65,1.72),(66,1.8),(67,1.72),(69,1.75),(70,1.85),(71,1.6),(72,1.75),(73,1.45),(74,1.35),(75,1.55),(76,1.65),(55,1.3),(57,1.25),(60,1.3),(62,1.38),(65,1.25),(67,1.28),(68,1.45),(69,1.4),(65,2.22),(67,2.15),(69,2.35),(70,2.42),(72,2.4),(74,2.05),(76,2.1),(53,2.2),(55,2.3),(51,2.3),(59,2.2),(61,2.25)]
QT4_A5 = [(58,3.25),(58.5,3.2),(54,3.22),(62,3.15),(63,3.17),(68,3.1),(69,3.09),(70,3.03),(46,3.0),(48,3.0),(59,2.98),(62,2.98),(69,3.0),(66,2.95),(54,2.95),(55,2.9),(53,2.85),(57,2.92),(58,2.8),(58,2.75),(51,2.7),(53,2.82),(50,2.78),(61,2.78),(65,2.83),(66,2.8),(64,2.77),(70,2.78),(72,2.78),(69,2.73),(72,2.72),(75,2.68),(76,2.84),(79,2.65),(46,2.68),(48,2.72),(45,2.65),(47,2.55),(50,2.6),(52,2.58),(55,2.6),(58,2.65),(58,2.68),(60,2.6),(62,2.6),(64,2.62),(66,2.55),(70,2.58),(71,2.55),(79,2.55),(85,2.62),(83,2.59),(46,2.5),(48,2.45),(50,2.42),(53,2.48),(54,2.45),(57,2.5),(58,2.45),(60,2.48),(62,2.45),(64,2.5),(66,2.5),(69,2.45),(73,2.47),(74,2.4),(76,2.35),(45,2.35),(47,2.35),(52,2.3),(54,2.28),(56,2.35),(58,2.3),(60,2.35),(62,2.32),(65,2.3),(67,2.35),(71,2.33),(72,2.2),(74,2.25),(85,2.38),(85,2.35),(84,2.2),(49,2.15),(51,2.2),(53,2.1),(55,2.15),(58,2.2),(60,2.15),(62,2.12),(64,2.18),(68,2.15),(71,2.1),(73,2.05),(57,2.0),(60,2.0),(68,1.9),(71,1.8),(75,1.85),(79,1.62),(89,1.63),(94,1.63),(85,1.75),(86,1.7),(85,1.65),(86,1.85),(84,1.95),(78,1.85),(76,1.82),(94.5,1.46),(84,1.4),(79,1.44),(78,1.43),(79,1.35),(78,1.07),(77,1.2),(74,1.05),(70,1.2),(72,1.27),(71.5,1.25),(65,1.42),(64,1.3),(65,1.27),(62,1.35),(59,1.65),(60,1.75),(62,1.6),(59,1.8),(55,1.75),(53,1.7),(47,1.55),(43,1.6),(43,1.55),(46,1.25),(44,1.2),(52,1.5),(55,1.45),(57,1.12),(56,1.04),(76,0.93),(68,0.72),(67,0.7),(66,0.67),(62,0.64),(58,0.69),(77,0.64),(77,0.35),(78,0.3),(68,0.3),(52,0.32),(57,0.32),(74,0.16),
 (55,2.75),(56,2.55),(57,2.42),(58,2.55),(59,2.38),(60,2.52),(61,2.4),(62,2.53),(63,2.38),(63,2.65),(64,2.38),(65,2.45),(65,2.62),(67,2.45),(67,2.58),(68,2.38),(69,2.28),(70,2.35),(70,2.22),(72,2.38),(73,2.3),(52,2.45),(52,2.18),(51,2.32),(49,2.28),(48,2.2),(47,2.25),(50,2.12),(54,2.05),(55,1.95),(56,2.15),(57,2.18),(59,2.08),(60,2.28),(61,2.05),(63,2.05),(65,2.15),(66,2.2),(67,2.1),(69,2.18),(70,2.05),(58,1.85),(61,1.7),(63,1.78),(66,1.45),(68,1.6),(71,1.45),(72,1.6),(75,1.55),(77,1.62)]

# regression end points per area, then combined
QT1_FITS = [((33.5,1.14),(82.4,2.14)),((36.2,1.217),(80.8,1.753)),((22,1.098),(71.9,1.712)),((19.8,1.835),(68.1,2.242)),((18.6,1.904),(74,2.306))]
QT1_ALL = ((18.4,1.587),(82.6,1.907))
QT3_FITS = [((50,1.66),(113.3,2.34)),((38.9,1.76),(93.5,2.22)),((27.8,1.395),(89.4,1.52)),((35.5,1.753),(109.6,1.724)),((50.2,1.954),(120,1.776))]
QT3_ALL = ((27.8,1.54),(120,2.13))
QT2_FITS = [((22.9,2.255),(72.8,1.85)),((29.8,1.916),(93.8,1.634)),((21.6,1.462),(63.6,1.625)),((23.4,1.685),(83.2,1.783)),((31,1.839),(92.9,1.919))]
QT2_ALL = ((21.4,1.91),(93.8,1.79))
QT4_FITS = [((26.1,1.539),(72.9,2.044)),((38.4,2.089),(87.5,1.833)),((23.4,1.506),(85.6,1.39)),((22.9,1.622),(88.1,1.958)),((31.4,2.365),(94.5,1.854))]
QT4_ALL = ((22.8,1.494),(94.6,2.213))

# ---- layout (pixels) ----
W, H = 1898, 1097
def fx(px): return px / W
def fy(py): return 1 - py / H

PANELS = [
    ("QT1", [QT1_A1, QT1_A2, QT1_A3, QT1_A4, QT1_A5], QT1_FITS, QT1_ALL, (111, 924, 37.5, 455), (30, 945, 24, 530), 179, 83),
    ("QT3", [QT3_A1, QT3_A2, QT3_A3, QT3_A4, QT3_A5], QT3_FITS, QT3_ALL, (1044, 1855, 37.5, 455), (963, 1875, 24, 530), 1111, 83),
    ("QT2", [QT2_A1, QT2_A2, QT2_A3, QT2_A4, QT2_A5], QT2_FITS, QT2_ALL, (111, 923, 562, 980.5), (30, 944, 549, 1054), 179, 605),
    ("QT4", [QT4_A1, QT4_A2, QT4_A3, QT4_A4, QT4_A5], QT4_FITS, QT4_ALL, (1042.5, 1855, 562, 980.5), (962, 1875, 549, 1054), 1110, 605),
]

TICK_FONT_X = dict(family="Liberation Sans", size=21, color="black")
TICK_FONT_Y = dict(family="Liberation Sans", size=18, color="black")

fig = go.Figure()
layout = dict(
    width=W, height=H, margin=dict(l=0, r=0, t=0, b=0, autoexpand=False), autosize=False,
    paper_bgcolor="white", plot_bgcolor="#C0C0C0", hovermode=False,
    shapes=[], annotations=[],
    legend=dict(x=fx(689), y=fy(282), xanchor="left", yanchor="top", bgcolor="rgba(0,0,0,0)",
                borderwidth=0, tracegroupgap=0, itemwidth=53,
                traceorder="normal", font=dict(family="Liberation Sans", size=19, color="black")),
)
for line in [(6, 6.5, W, 6.5, 3), (6, 6, 6, H, 2), (6, 1067, W, 1067, 3)]:
    layout["shapes"].append(dict(type="line", xref="paper", yref="paper", layer="below",
                                 x0=fx(line[0]), y0=fy(line[1]), x1=fx(line[2]), y1=fy(line[3]),
                                 line=dict(color="black", width=line[4])))

for i, (name, series, fits, overall, rect, box, lx, ly) in enumerate(PANELS):
    sfx = "" if i == 0 else str(i + 1)
    xa, ya = "x" + sfx, "y" + sfx
    left, right, top, bottom = rect
    layout["xaxis" + sfx] = dict(
        domain=[fx(left), fx(right)], range=[0, 120], tickvals=X_TICKS, ticks="inside", ticklen=7,
        tickcolor="#333333", tickwidth=1, showgrid=False, zeroline=False, showline=True,
        linecolor="#303030", linewidth=2, tickfont=TICK_FONT_X, ticklabelstandoff=10, anchor=ya,
        title=dict(text="MLD (m)", font=dict(family="Liberation Sans", size=20, color="black"), standoff=10),
    )
    layout["yaxis" + sfx] = dict(
        domain=[fy(bottom), fy(top)], range=[0, 3.5], tickvals=Y_TICKS, tickformat=".1f", ticks="inside", ticklen=6,
        tickcolor="#303030", showgrid=True, gridcolor="#303030", gridwidth=1, zeroline=False, showline=True,
        linecolor="#404040", linewidth=2, tickfont=TICK_FONT_Y, ticklabelstandoff=15, anchor=xa,
        title=dict(text="LCPUE", font=dict(family="Liberation Sans", size=18, color="black"), standoff=3),
    )
    layout["shapes"].append(dict(type="rect", xref="paper", yref="paper", layer="below",
                                 x0=fx(box[0]), x1=fx(box[1]), y0=fy(box[3]), y1=fy(box[2]),
                                 line=dict(color="black", width=1.5)))
    # grey chart edge along the top and right of each plot area
    layout["shapes"].append(dict(type="line", xref="paper", yref="paper", x0=fx(left), x1=fx(right + 1),
                                 y0=fy(top), y1=fy(top), line=dict(color="#808080", width=3)))
    layout["shapes"].append(dict(type="line", xref="paper", yref="paper", x0=fx(right), x1=fx(right),
                                 y0=fy(top), y1=fy(bottom), line=dict(color="#808080", width=2)))
    layout["annotations"].append(dict(xref="paper", yref="paper", x=fx(lx), y=fy(ly), text="<b>%s</b>" % name,
                                      xanchor="left", yanchor="middle", showarrow=False,
                                      font=dict(family="Liberation Serif", size=37, color="black")))
    for j, pts in enumerate(series):
        fig.add_trace(go.Scatter(x=[p[0] for p in pts], y=[p[1] for p in pts], mode="markers", xaxis=xa, yaxis=ya,
                                 name=AREAS[j], legendgroup=AREAS[j], showlegend=(i == 0), cliponaxis=False,
                                 marker=dict(symbol="square", size=4, color=COLORS[j], line=dict(width=0))))
    for j, (p0, p1) in enumerate(fits):
        fig.add_trace(go.Scatter(x=[p0[0], p1[0]], y=[p0[1], p1[1]], mode="lines", xaxis=xa, yaxis=ya, showlegend=False,
                                 line=dict(color=COLORS[j], width=2.5)))
    fig.add_trace(go.Scatter(x=[overall[0][0], overall[1][0]], y=[overall[0][1], overall[1][1]], mode="lines",
                             xaxis=xa, yaxis=ya, name="Regression (1-5)", legendgroup="reg", showlegend=(i == 0),
                             line=dict(color="black", width=5)))

# white legend panel behind the (transparent) legend entries
layout["shapes"].append(dict(type="rect", xref="paper", yref="paper", x0=fx(689), x1=fx(933), y0=fy(454), y1=fy(288),
                             line=dict(color="black", width=1), fillcolor="white"))
layout["annotations"].append(dict(xref="paper", yref="paper", x=fx(953), y=fy(1084), text="<i>%s</i>" % CAPTION,
                                  showarrow=False, xanchor="center", yanchor="middle",
                                  font=dict(family="Liberation Serif", size=24, color="black")))
fig.update_layout(**layout)
POST = """
document.body.style.margin='0';
document.documentElement.style.overflow='hidden';
document.querySelectorAll('.legendtext').forEach(function(t){t.style.letterSpacing='1.6px';});
document.querySelectorAll('.legend .scrollbox, .legend').forEach(function(t){t.removeAttribute('clip-path');t.style.clipPath='none';});
document.querySelectorAll('.g-xtitle text,.g-x2title text,.g-x3title text,.g-x4title text').forEach(function(t){t.style.letterSpacing='1px';});
"""
fig.write_html("out.html", config={"displayModeBar": False}, post_script=POST)
